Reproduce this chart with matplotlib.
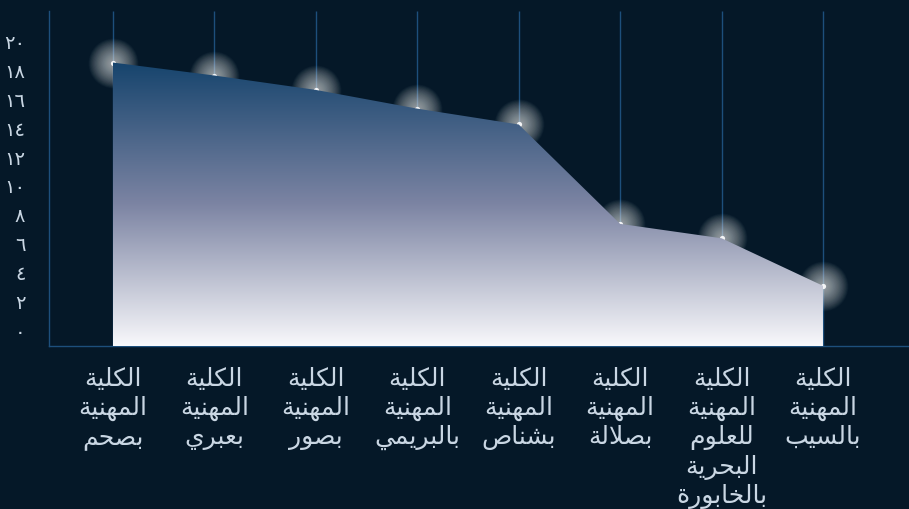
import numpy as np
import matplotlib
matplotlib.use("Agg")
import matplotlib.pyplot as plt
from matplotlib.colors import LinearSegmentedColormap
from matplotlib.patches import Polygon

# data
categories = [
    "الكلية المهنية بصحم",
    "الكلية المهنية بعبري",
    "الكلية المهنية بصور",
    "الكلية المهنية بالبريمي",
    "الكلية المهنية بشناص",
    "الكلية المهنية بصلالة",
    "الكلية المهنية للعلوم البحرية بالخابورة",
    "الكلية المهنية بالسيب",
]
values = [18.5, 17.6, 16.6, 15.3, 14.2, 7.3, 6.3, 3.0]
y_ticks = [0, 2, 4, 6, 8, 10, 12, 14, 16, 18, 20]

BG = "#051828"
TXT = "#c9d6e3"
LINE = "#1d4f7c"

# matplotlib has no arabic shaping, so map letters to presentation forms
# (isolated, final, initial, medial); two-form letters do not join forward
FORMS = {
    "ا": ("\uFE8D", "\uFE8E"),
    "ب": ("\uFE8F", "\uFE90", "\uFE91", "\uFE92"),
    "ة": ("\uFE93", "\uFE94"),
    "ح": ("\uFEA1", "\uFEA2", "\uFEA3", "\uFEA4"),
    "خ": ("\uFEA5", "\uFEA6", "\uFEA7", "\uFEA8"),
    "ر": ("\uFEAD", "\uFEAE"),
    "س": ("\uFEB1", "\uFEB2", "\uFEB3", "\uFEB4"),
    "ش": ("\uFEB5", "\uFEB6", "\uFEB7", "\uFEB8"),
    "ص": ("\uFEB9", "\uFEBA", "\uFEBB", "\uFEBC"),
    "ع": ("\uFEC9", "\uFECA", "\uFECB", "\uFECC"),
    "ك": ("\uFED9", "\uFEDA", "\uFEDB", "\uFEDC"),
    "ل": ("\uFEDD", "\uFEDE", "\uFEDF", "\uFEE0"),
    "م": ("\uFEE1", "\uFEE2", "\uFEE3", "\uFEE4"),
    "ن": ("\uFEE5", "\uFEE6", "\uFEE7", "\uFEE8"),
    "ه": ("\uFEE9", "\uFEEA", "\uFEEB", "\uFEEC"),
    "و": ("\uFEED", "\uFEEE"),
    "ي": ("\uFEF1", "\uFEF2", "\uFEF3", "\uFEF4"),
}


def shape_word(word):
    out = []
    i = 0
    prev_joins = False
    while i < len(word):
        c = word[i]
        nxt = word[i + 1] if i + 1 < len(word) else None
        if c == "ل" and nxt == "ا":
            out.append("\uFEFC" if prev_joins else "\uFEFB")
            prev_joins = False
            i += 2
            continue
        f = FORMS.get(c)
        if f is None:
            out.append(c)
            prev_joins = False
            i += 1
            continue
        dual = len(f) == 4
        joins_next = dual and nxt is not None and nxt in FORMS
        if prev_joins and joins_next:
            out.append(f[3])
        elif prev_joins:
            out.append(f[1])
        elif joins_next:
            out.append(f[2])
        else:
            out.append(f[0])
        prev_joins = joins_next
        i += 1
    return "".join(out)[::-1]


def ar_digits(n):
    return str(n).translate(str.maketrans("0123456789", "٠١٢٣٤٥٦٧٨٩"))


fig = plt.figure(figsize=(9.09, 5.10), dpi=100, facecolor=BG)
ax = fig.add_axes([49 / 909, 163 / 510, 1 - 49 / 909, 335 / 510])
ax.set_facecolor(BG)

x = np.arange(len(values))
ax.set_xlim(-0.631, 7.848)
ax.set_ylim(-1.18, 22.08)
y_bottom = ax.get_ylim()[0]

# vertical lines at each category
ax.vlines(x, y_bottom, ax.get_ylim()[1], color=LINE, lw=1, zorder=1)

# glowing points: many faint stacked discs plus a small white core
for d in np.linspace(36, 3, 40):
    ax.scatter(x, values, s=d ** 2, color="white", alpha=0.025, lw=0, zorder=2)
ax.scatter(x, values, s=14, color="white", alpha=0.9, lw=0, zorder=2)

# gradient area
cmap = LinearSegmentedColormap.from_list(
    "area", [(0, "#f8f8fb"), (0.5, "#7c84a3"), (1, "#16446d")])
grad = np.linspace(0, 1, 256).reshape(-1, 1)
im = ax.imshow(grad, cmap=cmap, origin="lower", aspect="auto",
               extent=[x[0], x[-1], y_bottom, max(values)], zorder=3)
poly = Polygon(np.vstack([np.column_stack([x, values]),
                          [[x[-1], y_bottom], [x[0], y_bottom]]]),
               closed=True, facecolor="none", edgecolor="none",
               transform=ax.transData)
ax.add_patch(poly)
im.set_clip_path(poly)
ax.set_xlim(-0.631, 7.848)
ax.set_ylim(-1.18, 22.08)

for s in ["top", "right"]:
    ax.spines[s].set_visible(False)
for s in ["left", "bottom"]:
    ax.spines[s].set_color(LINE)
    ax.spines[s].set_linewidth(1)

ax.set_yticks(y_ticks)
ax.set_yticklabels([ar_digits(v) for v in y_ticks], color=TXT, fontsize=14,
                   family="DejaVu Sans")
ax.tick_params(axis="y", length=0, pad=17)
ax.set_xticks([])

for i, lab in enumerate(categories):
    txt = "\n".join(shape_word(w) for w in lab.split())
    ax.annotate(txt, xy=(i, 0), xycoords=("data", "axes fraction"),
                xytext=(0, -20), textcoords="offset pixels",
                ha="center", va="top", color=TXT, fontsize=18,
                linespacing=1.24, family="DejaVu Sans", annotation_clip=False)

fig.savefig("out.png", dpi=100, facecolor=BG)
